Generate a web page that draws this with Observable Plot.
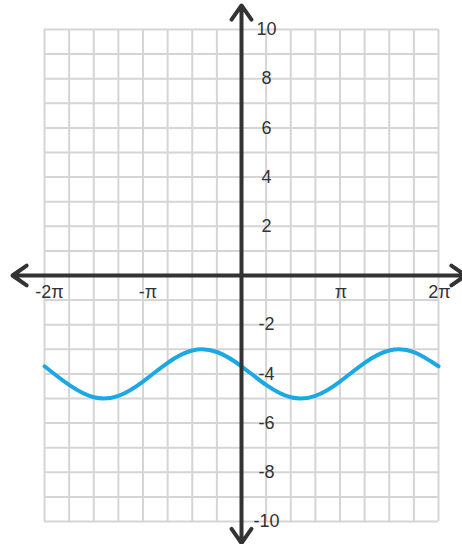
<!DOCTYPE html>
<html>
<head>
<meta charset="utf-8">
<script src="https://cdn.jsdelivr.net/npm/d3@7"></script>
<script src="https://cdn.jsdelivr.net/npm/@observablehq/plot@0.6"></script>
<style>
  html, body { margin: 0; padding: 0; background: #fff; }
  svg { display: block; }
</style>
</head>
<body>
<div id="chart"></div>
<script>
const PI = Math.PI;

// Grid: vertical lines every π/4 (in quarter-π steps), horizontal lines every unit
const gridQuarters = d3.range(-8, 9);
const gridY = d3.range(-10, 11);

// Curve samples, x in quarter-π steps, y
const curveQuarters = [-8, -7, -6, -5, -4, -3, -2, -1, 0, 1, 2, 3, 4, 5, 6, 7, 8];
const curveY = [-3.69, -4.45, -4.95, -4.89, -4.31, -3.55, -3.05, -3.11, -3.69, -4.45, -4.95, -4.89, -4.31, -3.55, -3.05, -3.11, -3.69];

// Tick labels
const yTickValues = [10, 8, 6, 4, 2, -2, -4, -6, -8, -10];
const xTickMultiples = [-2, -1, 1, 2];
const xTickLabels = ["-2π", "-π", "π", "2π"];

// Extents of the axis arrows
const axisLeft = -2 * PI - 1.3 * PI / 4;
const axisRight = 2 * PI + 1.1 * PI / 4;
const axisTop = 10.98;
const axisBottom = -10.88;

const curve = curveQuarters.map((q, i) => ({x: q * PI / 4, y: curveY[i]}));
const axes = [
  {x1: 0, y1: 0, x2: axisRight, y2: 0},
  {x1: 0, y1: 0, x2: axisLeft, y2: 0},
  {x1: 0, y1: 0, x2: 0, y2: axisTop},
  {x1: 0, y1: 0, x2: 0, y2: axisBottom}
];
const xTicks = xTickMultiples.map((m, i) => ({x: m * PI, label: xTickLabels[i], m}));
const labelStyle = {fill: "#333", textAnchor: "middle", lineAnchor: "middle"};

const chart = Plot.plot({
  width: 462,
  height: 544,
  marginLeft: 44,
  marginRight: 24,
  marginTop: 29,
  marginBottom: 23,
  x: {domain: [-2 * PI, 2 * PI], axis: null},
  y: {domain: [-10, 10], axis: null},
  style: {
    background: "#fff",
    fontFamily: "'Liberation Sans', Arial, sans-serif",
    fontSize: "18px",
    overflow: "visible"
  },
  marks: [
    Plot.ruleX(gridQuarters, {x: (q) => q * PI / 4, stroke: "#d5d5d5", strokeWidth: 2}),
    Plot.ruleY(gridY, {stroke: "#d5d5d5", strokeWidth: 2}),
    Plot.line(curve, {x: "x", y: "y", curve: "natural", stroke: "#1ba9e4", strokeWidth: 4}),
    Plot.arrow(axes, {
      x1: "x1", y1: "y1", x2: "x2", y2: "y2",
      stroke: "#333", strokeWidth: 4, headAngle: 70, headLength: 6.5
    }),
    Plot.text(yTickValues, {x: 0, y: (d) => d, text: (d) => String(d), dx: 25, ...labelStyle}),
    // Negative π labels sit slightly right of their grid line
    Plot.text(xTicks.filter((d) => d.m < 0), {x: "x", y: 0, text: "label", dx: 5, dy: 17, ...labelStyle}),
    Plot.text(xTicks.filter((d) => d.m > 0), {x: "x", y: 0, text: "label", dx: 1, dy: 17, ...labelStyle})
  ]
});

document.getElementById("chart").appendChild(chart);
</script>
</body>
</html>
